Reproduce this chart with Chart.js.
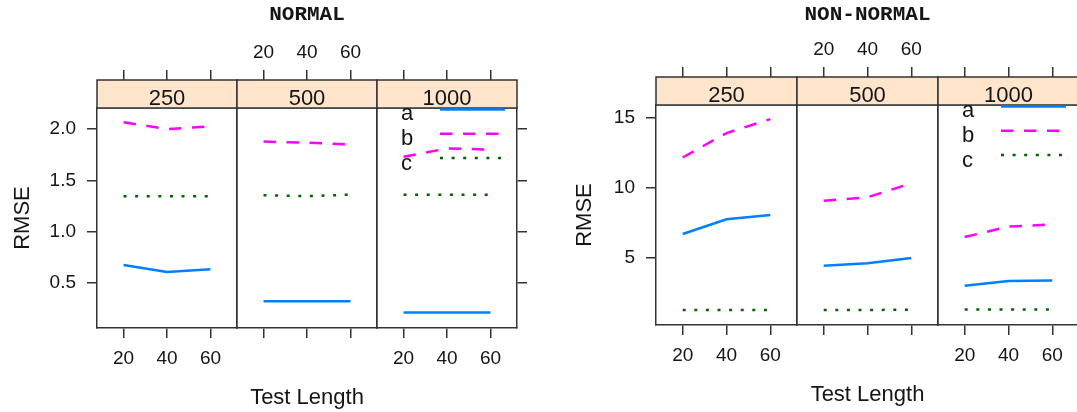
<!DOCTYPE html>
<html>
<head>
<meta charset="utf-8">
<title>RMSE by test length</title>
<script src="https://cdn.jsdelivr.net/npm/chart.js@4.4.1/dist/chart.umd.min.js"></script>
<style>
  body { margin: 0; background: #fff; }
  #stage { position: relative; width: 1077px; height: 412px; overflow: hidden; background: #fff; }
  #stage canvas { position: absolute; top: 0; }
</style>
</head>
<body>
<div id="stage"></div>
<script>
// ---- data ----
const testLength = [20, 40, 60];
const sampleSizes = ["250", "500", "1000"];
const seriesNames = ["a", "b", "c"];
const xTicks = [20, 40, 60];
const normalYTicks = [0.5, 1.0, 1.5, 2.0];
const nonNormalYTicks = [5, 10, 15];

// one inner array per sample size (250, 500, 1000), values at test length 20/40/60
const normalA = [[0.675, 0.605, 0.633], [0.32, 0.32, 0.32], [0.21, 0.21, 0.21]];
const normalB = [[2.065, 2.0, 2.025], [1.878, 1.866, 1.85], [1.73, 1.81, 1.80]];
const normalC = [[1.345, 1.345, 1.345], [1.355, 1.345, 1.36], [1.36, 1.36, 1.36]];

const nonNormalA = [[6.67, 7.72, 8.03], [4.4, 4.57, 4.95], [2.97, 3.3, 3.33]];
const nonNormalB = [[12.15, 13.9, 14.9], [9.05, 9.3, 10.3], [6.45, 7.2, 7.35]];
const nonNormalC = [[1.23, 1.23, 1.23], [1.23, 1.23, 1.24], [1.26, 1.26, 1.26]];

// ---- look ----
const INK = "#333333";
const TEXT = "#151515";
const STRIP_FILL = "#ffe5cc";
const STRIP_H = 28;
const PLOT_H = 220;
const X_MIN = 7.8, X_MAX = 72.2;
const SANS = '"Liberation Sans", Arial, sans-serif';

Chart.defaults.font.family = SANS;
Chart.defaults.font.size = 19;
Chart.defaults.color = TEXT;

const lineStyles = [
  { color: "#0080ff", dash: [] },
  { color: "#ff00ff", dash: [12.5, 10.5] },
  { color: "#006400", dash: [3, 8.6] }
];

const figures = [
  { title: "NORMAL", a: normalA, b: normalB, c: normalC, yTicks: normalYTicks,
    yMin: 0.06, yMax: 2.205, fmt: v => v.toFixed(1),
    left: 97, top: 108, panelW: 140, firstRoom: 97, rmsePad: 9.8, xTitlePad: 0.8 },
  { title: "NON-NORMAL", a: nonNormalA, b: nonNormalB, c: nonNormalC, yTicks: nonNormalYTicks,
    yMin: 0.15, yMax: 15.91, fmt: v => String(v),
    left: 656, top: 105, panelW: 141, firstRoom: 100, rmsePad: 15.8, xTitlePad: 3.5 }
];

// strip on top of each panel + key inside the last panel
const stripPlugin = {
  id: "strip",
  afterDraw(chart, args, opts) {
    const { ctx, chartArea: a } = chart;
    ctx.save();
    ctx.fillStyle = STRIP_FILL;
    ctx.fillRect(a.left, a.top - STRIP_H, a.right - a.left, STRIP_H);
    ctx.strokeStyle = INK;
    ctx.lineWidth = 1.5;
    ctx.strokeRect(a.left, a.top - STRIP_H, a.right - a.left, STRIP_H);
    ctx.fillStyle = TEXT;
    ctx.font = "22px " + SANS;
    ctx.textAlign = "center";
    ctx.textBaseline = "alphabetic";
    ctx.fillText(opts.label, (a.left + a.right) / 2, a.top - 3.5);

    if (opts.key) {
      chart.data.datasets.forEach((ds, i) => {
        ctx.fillStyle = TEXT;
        ctx.textAlign = "left";
        ctx.fillText(ds.label, a.left + 24, a.top + 12 + i * 24.8);
        ctx.beginPath();
        ctx.setLineDash(ds.borderDash || []);
        ctx.strokeStyle = ds.borderColor;
        ctx.lineWidth = ds.borderWidth;
        ctx.moveTo(a.left + 63, a.top + 1.5 + i * 24.3);
        ctx.lineTo(a.left + 128, a.top + 1.5 + i * 24.3);
        ctx.stroke();
        ctx.setLineDash([]);
      });
    }
    ctx.restore();
  }
};

const stage = document.getElementById("stage");

function setTicks(values) {
  return axis => { axis.ticks = values.map(v => ({ value: v })); };
}

function tickGrid(show, len) {
  return { display: show, drawOnChartArea: false, drawTicks: true, tickLength: len, color: INK, lineWidth: 1.5 };
}

const edge = { display: true, color: INK, width: 1.5 };

function buildPanel(fig, k) {
  const first = k === 0, middle = k === 1, last = k === 2;
  const areaLeft = fig.left + k * fig.panelW;
  const padL = first ? fig.firstRoom : 30;
  const padR = 30;
  const titleRoom = middle ? 27.6 : 0;
  const bottomRoom = 412 - fig.top - PLOT_H;

  const canvas = document.createElement("canvas");
  canvas.width = padL + fig.panelW + padR;
  canvas.height = 412;
  canvas.style.left = (areaLeft - padL) + "px";
  stage.appendChild(canvas);

  const values = [fig.a[k], fig.b[k], fig.c[k]];
  const datasets = values.map((vals, i) => ({
    label: seriesNames[i],
    data: testLength.map((x, j) => ({ x: x, y: vals[j] })),
    borderColor: lineStyles[i].color,
    borderDash: lineStyles[i].dash,
    borderWidth: 2.5,
    pointRadius: 0,
    fill: false,
    tension: 0
  }));

  new Chart(canvas, {
    type: "line",
    data: { datasets: datasets },
    options: {
      responsive: false,
      animation: false,
      devicePixelRatio: 1,
      layout: { padding: 0 },
      events: [],
      plugins: {
        legend: { display: false },
        tooltip: { enabled: false },
        title: {
          display: middle,
          text: fig.title,
          color: TEXT,
          font: { family: '"Liberation Mono", "Courier New", monospace', size: 21, weight: "bold" },
          padding: { top: 2.4, bottom: 0 }
        },
        strip: { label: sampleSizes[k], key: last }
      },
      scales: {
        x: {
          type: "linear", position: "bottom", min: X_MIN, max: X_MAX,
          afterBuildTicks: setTicks(xTicks),
          afterFit: s => { s.height = bottomRoom; },
          ticks: { display: k !== 1, padding: 9.6, autoSkip: false, maxRotation: 0, minRotation: 0 },
          grid: tickGrid(true, 10),
          border: edge,
          title: { display: middle, text: "Test Length", color: TEXT, font: { size: 22 },
                   padding: { top: 0, bottom: fig.xTitlePad } }
        },
        x2: {
          type: "linear", position: "top", min: X_MIN, max: X_MAX,
          afterBuildTicks: setTicks(xTicks),
          afterFit: s => { s.height = fig.top - titleRoom; },
          ticks: { display: middle, padding: 5.9, autoSkip: false, maxRotation: 0, minRotation: 0 },
          grid: tickGrid(true, STRIP_H + 10),
          border: edge
        },
        y: {
          type: "linear", position: "left", min: fig.yMin, max: fig.yMax,
          afterBuildTicks: setTicks(fig.yTicks),
          afterFit: s => { s.width = padL; },
          ticks: { display: first, padding: 11, callback: v => fig.fmt(v) },
          grid: tickGrid(first, 10),
          border: edge,
          title: { display: first, text: "RMSE", color: TEXT, font: { size: 22 },
                   padding: { top: fig.rmsePad, bottom: 0 } }
        },
        y2: {
          type: "linear", position: "right", min: fig.yMin, max: fig.yMax,
          afterBuildTicks: setTicks(fig.yTicks),
          afterFit: s => { s.width = padR; },
          ticks: { display: false },
          grid: tickGrid(last, 10),
          border: edge
        }
      }
    },
    plugins: [stripPlugin]
  });
}

figures.forEach(fig => {
  for (let k = 0; k < sampleSizes.length; k++) buildPanel(fig, k);
});
</script>
</body>
</html>
